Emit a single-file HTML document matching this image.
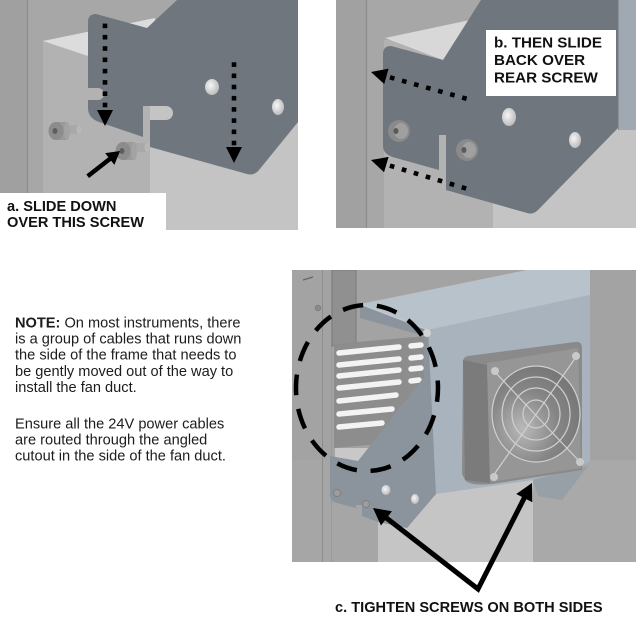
<!DOCTYPE html>
<html><head><meta charset="utf-8">
<style>
html,body{margin:0;padding:0;background:#fff;}
svg{display:block;}
text{font-family:"Liberation Sans",Arial,sans-serif;}
</style></head><body>
<svg width="636" height="618" viewBox="0 0 636 618" xmlns="http://www.w3.org/2000/svg">
<defs>
 <radialGradient id="hole" cx="0.4" cy="0.4" r="0.7"><stop offset="0" stop-color="#f6f6f6"/><stop offset="1" stop-color="#b4b4b4"/></radialGradient>
 <radialGradient id="fanin" cx="0.35" cy="0.65" r="0.8"><stop offset="0" stop-color="#b9b9b9"/><stop offset="0.5" stop-color="#858585"/><stop offset="1" stop-color="#727272"/></radialGradient>
 <clipPath id="c1"><rect x="0" y="0" width="298" height="230"/></clipPath>
 <clipPath id="c2"><rect x="336" y="0" width="300" height="228"/></clipPath>
 <clipPath id="c3"><rect x="292" y="270" width="344" height="292"/></clipPath>
</defs>
<rect width="636" height="618" fill="#fff"/>

<!-- ===== TOP-LEFT PHOTO ===== -->
<g clip-path="url(#c1)">
 <rect x="0" y="0" width="298" height="230" fill="#a7a7a7"/>
 <rect x="0" y="0" width="27" height="230" fill="#a0a0a0"/>
 <line x1="27.5" y1="0" x2="27.5" y2="230" stroke="#8c8c8c" stroke-width="1.2"/>
 <rect x="43" y="40" width="107" height="190" fill="#b2b2b2"/>
 <rect x="150" y="100" width="148" height="130" fill="#c4c4c4"/>
 <polygon points="43,41 155,18 155,60 88,56" fill="#dcdcdc"/>
 <!-- bracket -->
 <path d="M88,22 Q88,14 96,14 L147,28 L177,0 L298,0 L298,122 L259,170 Q254,176 247,174 L150,147 L150,120 L166,120 A7,7 0 0 0 166,106 L143,106 L143,137 L99,122 Q88,118 88,108 L88,100 L98,100 A6,6 0 0 0 98,88 L88,88 Z" fill="#6f767d"/>
 <ellipse cx="212" cy="87" rx="7" ry="8" fill="url(#hole)"/>
 <ellipse cx="278" cy="107" rx="6" ry="8" fill="url(#hole)"/>
 <!-- screw 1 -->
 <rect x="66" y="125" width="13" height="9" fill="#a9a9a9"/>
 <ellipse cx="79" cy="129.5" rx="2.5" ry="4.5" fill="#b8b8b8"/>
 <rect x="56" y="122" width="12" height="18" fill="#9a9a9a"/>
 <ellipse cx="67" cy="131" rx="3" ry="9" fill="#a3a3a3"/>
 <ellipse cx="56" cy="131" rx="7.5" ry="9" fill="#8c8c8c"/>
 <ellipse cx="55" cy="131" rx="2.5" ry="3" fill="#5e5e5e"/>
 <!-- screw 2 -->
 <rect x="134" y="143" width="13" height="9" fill="#a9a9a9"/>
 <ellipse cx="147" cy="147.5" rx="2.5" ry="4.5" fill="#b8b8b8"/>
 <rect x="123" y="142" width="12" height="18" fill="#9a9a9a"/>
 <ellipse cx="134" cy="151" rx="3" ry="9" fill="#a3a3a3"/>
 <ellipse cx="123" cy="151" rx="7.5" ry="9" fill="#8c8c8c"/>
 <ellipse cx="122" cy="151" rx="2.5" ry="3" fill="#5e5e5e"/>
 <!-- dotted arrows -->
 <g transform="translate(105,126) rotate(-90)" fill="#000">
  <polygon points="0,0 16,-8 16,8"/>
  <rect x="18.7" y="-2.3" width="4.6" height="4.6"/><rect x="30" y="-2.3" width="4.6" height="4.6"/>
  <rect x="41.3" y="-2.3" width="4.6" height="4.6"/><rect x="52.6" y="-2.3" width="4.6" height="4.6"/>
  <rect x="63.9" y="-2.3" width="4.6" height="4.6"/><rect x="75.2" y="-2.3" width="4.6" height="4.6"/>
  <rect x="86.5" y="-2.3" width="4.6" height="4.6"/><rect x="97.8" y="-2.3" width="4.6" height="4.6"/>
 </g>
 <g transform="translate(234,163) rotate(-90)" fill="#000">
  <polygon points="0,0 16,-8 16,8"/>
  <rect x="17.7" y="-2.3" width="4.6" height="4.6"/><rect x="28.9" y="-2.3" width="4.6" height="4.6"/>
  <rect x="40.1" y="-2.3" width="4.6" height="4.6"/><rect x="51.3" y="-2.3" width="4.6" height="4.6"/>
  <rect x="62.5" y="-2.3" width="4.6" height="4.6"/><rect x="73.7" y="-2.3" width="4.6" height="4.6"/>
  <rect x="84.9" y="-2.3" width="4.6" height="4.6"/><rect x="96.1" y="-2.3" width="4.6" height="4.6"/>
 </g>
 <!-- solid arrow -->
 <g transform="translate(120,151) rotate(142)">
  <polygon points="0,0 13,-7.5 13,7.5" fill="#000"/>
  <line x1="11" y1="0" x2="41" y2="0" stroke="#000" stroke-width="4.5"/>
 </g>
 <rect x="0" y="193" width="166" height="37" fill="#fff"/>
 <text x="7" y="211" font-size="14.6" font-weight="bold" fill="#111">a. SLIDE DOWN</text>
 <text x="7" y="227" font-size="14.6" font-weight="bold" fill="#111">OVER THIS SCREW</text>
</g>

<!-- ===== TOP-RIGHT PHOTO ===== -->
<g clip-path="url(#c2)">
 <rect x="336" y="0" width="300" height="228" fill="#a7a7a7"/>
 <rect x="336" y="0" width="30" height="228" fill="#a1a1a1"/>
 <line x1="366.5" y1="0" x2="366.5" y2="228" stroke="#8c8c8c" stroke-width="1.2"/>
 <rect x="384" y="40" width="109" height="188" fill="#b2b2b2"/>
 <rect x="493" y="100" width="143" height="128" fill="#c4c4c4"/>
 <polygon points="385,38 470,20 470,60 443,60" fill="#d8d8d8"/>
 <rect x="618" y="0" width="18" height="130" fill="#a0a9b2"/>
 <line x1="618.5" y1="0" x2="618.5" y2="130" stroke="#8b939b" stroke-width="1"/>
 <!-- bracket -->
 <path d="M383,54 Q383,46 391,46 L443,60 L481,0 L618,0 L618,128 L538,210 Q533,215 527,213 L446,190 L446,135 L439,135 L439,170 L396,158 Q383,155 383,146 Z" fill="#6f767d"/>
 <ellipse cx="509" cy="117" rx="7" ry="9" fill="url(#hole)"/>
 <ellipse cx="575" cy="140" rx="6" ry="8" fill="url(#hole)"/>
 <!-- screws -->
 <ellipse cx="399" cy="131" rx="11" ry="11" fill="#8a8a8a"/>
 <ellipse cx="401" cy="131" rx="7" ry="8" fill="#a0a0a0"/>
 <ellipse cx="396" cy="131" rx="2.5" ry="3" fill="#5a5a5a"/>
 <ellipse cx="467" cy="150" rx="11" ry="11" fill="#8a8a8a"/>
 <ellipse cx="469" cy="150" rx="7" ry="8" fill="#a0a0a0"/>
 <ellipse cx="464" cy="150" rx="2.5" ry="3" fill="#5a5a5a"/>
 <!-- dotted arrows -->
 <g transform="translate(371,72) rotate(15.64)" fill="#000">
  <polygon points="0,0 16,-8 16,8"/>
  <rect x="19.7" y="-2.3" width="4.6" height="4.6"/><rect x="32.2" y="-2.3" width="4.6" height="4.6"/>
  <rect x="44.7" y="-2.3" width="4.6" height="4.6"/><rect x="57.2" y="-2.3" width="4.6" height="4.6"/>
  <rect x="69.7" y="-2.3" width="4.6" height="4.6"/><rect x="82.2" y="-2.3" width="4.6" height="4.6"/>
  <rect x="94.7" y="-2.3" width="4.6" height="4.6"/>
 </g>
 <g transform="translate(371,160) rotate(16.7)" fill="#000">
  <polygon points="0,0 16,-8 16,8"/>
  <rect x="19.7" y="-2.3" width="4.6" height="4.6"/><rect x="32.2" y="-2.3" width="4.6" height="4.6"/>
  <rect x="44.7" y="-2.3" width="4.6" height="4.6"/><rect x="57.2" y="-2.3" width="4.6" height="4.6"/>
  <rect x="69.7" y="-2.3" width="4.6" height="4.6"/><rect x="82.2" y="-2.3" width="4.6" height="4.6"/>
  <rect x="94.7" y="-2.3" width="4.6" height="4.6"/>
 </g>
 <rect x="486" y="30" width="130" height="66" fill="#fff"/>
 <text x="494" y="47.7" font-size="15.2" font-weight="bold" fill="#111">b. THEN SLIDE</text>
 <text x="494" y="65" font-size="15.2" font-weight="bold" fill="#111">BACK OVER</text>
 <text x="494" y="82.3" font-size="15.2" font-weight="bold" fill="#111">REAR SCREW</text>
</g>

<!-- ===== NOTE TEXT ===== -->
<g font-size="14.6" fill="#1c1c1c">
 <text x="15" y="327.3"><tspan font-weight="bold">NOTE:</tspan> On most instruments, there</text>
 <text x="15" y="343.5">is a group of cables that runs down</text>
 <text x="15" y="359.7">the side of the frame that needs to</text>
 <text x="15" y="375.9">be gently moved out of the way to</text>
 <text x="15" y="392.1">install the fan duct.</text>
 <text x="15" y="428.3">Ensure all the 24V power cables</text>
 <text x="15" y="444.5">are routed through the angled</text>
 <text x="15" y="460.7">cutout in the side of the fan duct.</text>
</g>

<!-- ===== BOTTOM PHOTO ===== -->
<g clip-path="url(#c3)">
 <rect x="292" y="270" width="344" height="292" fill="#a3a3a3"/>
 <rect x="292" y="460" width="86" height="102" fill="#a6a6a6"/>
 <rect x="533" y="460" width="103" height="102" fill="#a9a9a9"/>
 <line x1="322.5" y1="270" x2="322.5" y2="562" stroke="#8d8d8d" stroke-width="1"/>
 <line x1="331.5" y1="270" x2="331.5" y2="562" stroke="#999" stroke-width="1"/>
 <line x1="303" y1="280" x2="313" y2="277" stroke="#666" stroke-width="1.2"/>
 <circle cx="318" cy="308" r="2.8" fill="#8a8a8a" stroke="#777" stroke-width="0.6"/>
 <!-- pillar -->
 <rect x="378" y="450" width="155" height="112" fill="#c5c5c5"/>
 <polygon points="335,448 380,448 380,466 335,460" fill="#c8c8c8"/>
 <!-- dark panel -->
 <rect x="332" y="270" width="24" height="76" fill="#909090" stroke="#7a7a7a" stroke-width="1"/>
 <!-- louver background -->
 <polygon points="334,344 426,336 426,440 334,448" fill="#8d8d8d"/>
 <g stroke="#f3f3f3" stroke-width="5.5" stroke-linecap="round">
  <line x1="339" y1="353" x2="399" y2="347"/>
  <line x1="339" y1="365" x2="399" y2="359"/>
  <line x1="339" y1="376" x2="399" y2="370"/>
  <line x1="339" y1="388" x2="399" y2="382"/>
  <line x1="339" y1="401" x2="396" y2="395"/>
  <line x1="339" y1="414" x2="392" y2="409"/>
  <line x1="339" y1="427" x2="382" y2="423"/>
  <line x1="411" y1="346" x2="421" y2="345"/>
  <line x1="411" y1="358" x2="421" y2="357"/>
  <line x1="411" y1="369" x2="421" y2="368"/>
  <line x1="411" y1="381" x2="419" y2="380"/>
 </g>
 <!-- duct top -->
 <polygon points="360,304 527,270 590,270 590,295 428,330" fill="#b8c2cb"/>
 <!-- duct front -->
 <polygon points="428,330 590,295 590,462 533,480 436,494" fill="#a9b3bd"/>
 <!-- flap -->
 <polygon points="533,480 588,466 562,500 538,496" fill="#979fa7"/>
 <!-- side plate -->
 <path d="M360,304 L428,330 L436,494 L407,528 L378,522 L362,516 L362,505 L356,505 L356,508 L337,503 Q330,501 330,494 L330,456 L358,461 L424,377 L424,336 L360,318 Z" fill="#8b949c"/>
 <line x1="360" y1="304" x2="428" y2="330" stroke="#c4ccd3" stroke-width="1"/>
 <circle cx="427" cy="333" r="4" fill="#d2d2d2"/>
 <!-- fan -->
 <path d="M463,362 Q463,357 468,356 L575,342 Q582,341 582,348 L582,470 L492,484 Q470,486 465,480 L462,474 Z" fill="#8a8a8a"/>
 <polygon points="463,360 487,365 490,483 465,480" fill="#7b7b7b"/>
 <polygon points="487,363 578,348 581,468 490,482" fill="#969696"/>
 <ellipse cx="536" cy="414" rx="44" ry="48" fill="url(#fanin)"/>
 <g fill="none" stroke="#d0d0d0" stroke-width="1.2">
  <ellipse cx="536" cy="414" rx="13" ry="14"/>
  <ellipse cx="536" cy="414" rx="24" ry="26"/>
  <ellipse cx="536" cy="414" rx="34" ry="37"/>
  <ellipse cx="536" cy="414" rx="44" ry="48"/>
  <line x1="495" y1="372" x2="580" y2="462"/>
  <line x1="576" y1="357" x2="493" y2="476"/>
 </g>
 <circle cx="495" cy="371" r="4" fill="#c9c9c9"/>
 <circle cx="576" cy="356" r="4" fill="#c9c9c9"/>
 <circle cx="580" cy="462" r="4" fill="#c9c9c9"/>
 <circle cx="494" cy="477" r="4" fill="#c9c9c9"/>
 <!-- holes & screws on tab -->
 <ellipse cx="386" cy="490" rx="4.5" ry="5" fill="url(#hole)"/>
 <ellipse cx="415" cy="499" rx="4" ry="5" fill="url(#hole)"/>
 <circle cx="337" cy="493" r="3.5" fill="#9d9d9d" stroke="#777" stroke-width="0.7"/>
 <circle cx="366" cy="504" r="3.5" fill="#9d9d9d" stroke="#777" stroke-width="0.7"/>
 <!-- dashed ellipse -->
 <ellipse cx="367" cy="388" rx="71" ry="83" fill="none" stroke="#000" stroke-width="4.5" pathLength="280" stroke-dasharray="12 8" stroke-dashoffset="4"/>
</g>

<!-- bottom arrows -->
<polyline points="384.5,516.5 478,589 525.5,495.5" fill="none" stroke="#000" stroke-width="5" stroke-linejoin="miter"/>
<g transform="translate(373,508) rotate(37.65)"><polygon points="0,0 17,-9 17,9" fill="#000"/></g>
<g transform="translate(532,483) rotate(117)"><polygon points="0,0 17,-9 17,9" fill="#000"/></g>

<text x="335" y="612" font-size="14.6" font-weight="bold" fill="#111">c. TIGHTEN SCREWS ON BOTH SIDES</text>
</svg>
</body></html>
